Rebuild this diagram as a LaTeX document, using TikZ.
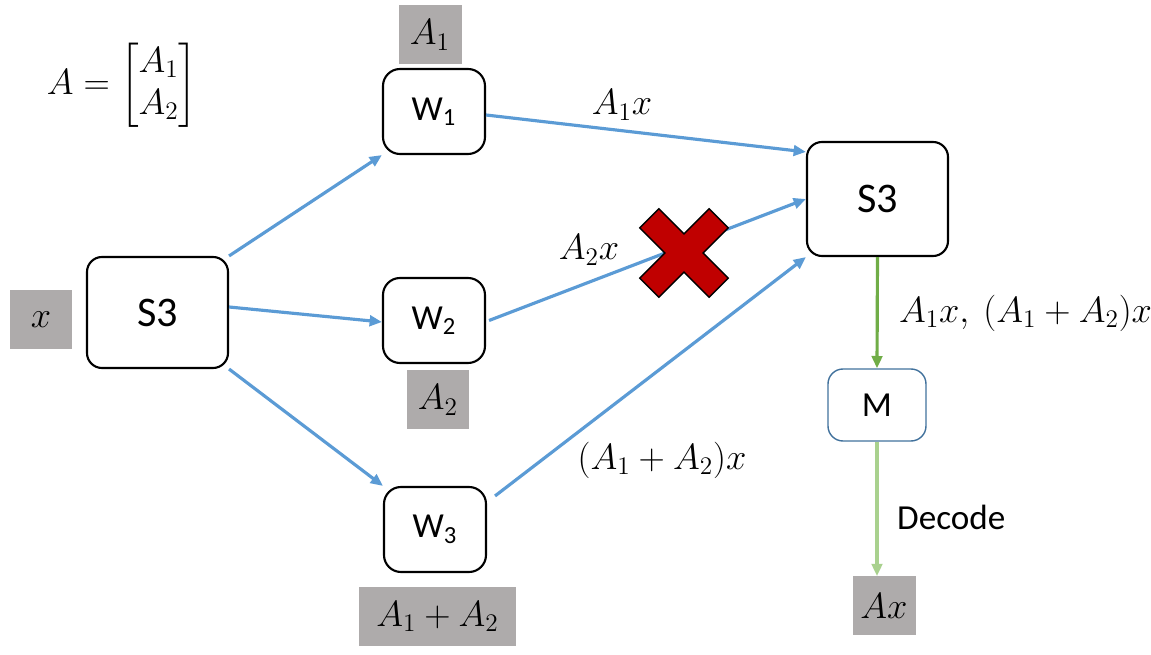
\documentclass[tikz,border=0pt]{standalone}
\usepackage{amsmath,amssymb}
\usepackage{fontspec}
\setmainfont{Carlito}
\usepackage{xcolor}
\usepackage{tikz}
\usetikzlibrary{arrows.meta,calc}

\definecolor{linkblue}{HTML}{5B9BD5}
\definecolor{tagGray}{HTML}{AEABAB}
\definecolor{crossRed}{HTML}{C00000}
\definecolor{sendGreen}{HTML}{70AD47}
\definecolor{decGreen}{HTML}{A9D18E}
\definecolor{mBlue}{HTML}{41719C}

\begin{document}
\begin{tikzpicture}[
    server/.style={draw=black, line width=1.2pt, rounded corners=0.3cm, fill=white, minimum width=2.82cm, minimum height=2.22cm, font=\fontsize{24}{28}\selectfont},
    worker/.style={draw=black, line width=1.2pt, rounded corners=0.34cm, minimum width=2.04cm, minimum height=1.7cm, font=\fontsize{20}{24}\selectfont},
    tag/.style={fill=tagGray, minimum height=1.18cm, inner sep=0pt, font=\fontsize{20}{24}\selectfont},
    link/.style={linkblue, line width=1.8pt, -{Triangle[length=7pt,width=6pt]}},
    lbl/.style={font=\fontsize{20}{24}\selectfont}
]
    \useasboundingbox (0,0) rectangle (23.02,13.1);

    % input and matrix
    \node[tag, minimum width=1.24cm] (xin) at (0.82,6.71) {$x$};
    \node[lbl] (amat) at (2.44,11.4) {$A=\begin{bmatrix}A_1\\A_2\end{bmatrix}$};

    % master and workers
    \node[server] (s3l) at (3.15,6.85) {S3};
    \node[tag, minimum width=1.26cm] (a1) at (8.6,12.4) {$A_1$};
    \node[worker] (w1) at (8.68,10.87) {W\textsubscript{1}};
    \node[worker] (w2) at (8.68,6.69) {W\textsubscript{2}};
    \node[tag, minimum width=1.24cm] (a2) at (8.76,5.1) {$A_2$};
    \node[worker] (w3) at (8.7,2.51) {W\textsubscript{3}};
    \node[tag, minimum width=3.14cm] (a12) at (8.75,0.77) {$A_1+A_2$};

    % receiver side
    \node[server, minimum height=2.28cm] (s3r) at (17.55,9.12) {S3};
    \node[draw=mBlue, line width=0.8pt, rounded corners=0.3cm, minimum width=1.96cm, minimum height=1.44cm, font=\fontsize{20}{24}\selectfont] (m) at (17.54,5.0) {M};
    \node[tag, minimum width=1.26cm] (ax) at (17.68,0.98) {$Ax$};

    % S3 -> workers
    \draw[link] (s3l.north east) -- (w1.south west);
    \draw[link] ([yshift=0.11cm]s3l.east) -- ([yshift=-0.03cm]w2.west);
    \draw[link] (s3l.south east) -- (w3.north west);

    % workers -> S3
    \draw[link] ([yshift=-0.07cm]w1.east) -- ([yshift=-0.22cm]s3r.north west);
    \draw[link] ([xshift=0.06cm]w2.east) -- (s3r.west);
    \draw[link] ([shift={(0.16,-0.2)}]w3.north east) -- (s3r.south west);
    \node[lbl] (l1) at (12.44,11.0) {$A_1x$};
    \node[lbl] (l2) at (11.78,8.1) {$A_2x$};
    \node[lbl] (l3) at (13.24,3.9) {$(A_1+A_2)x$};

    % straggler
    \draw[fill=crossRed, line width=0.8pt, shift={(13.68,8.04)}, rotate=45]
        (0.27,0.27) -- (0.98,0.27) -- (0.98,-0.27) -- (0.27,-0.27) -- (0.27,-0.98) -- (-0.27,-0.98)
        -- (-0.27,-0.27) -- (-0.98,-0.27) -- (-0.98,0.27) -- (-0.27,0.27) -- (-0.27,0.98) -- (0.27,0.98) -- cycle;

    % decode
    \draw[sendGreen, line width=1.8pt, -{Triangle[length=7pt,width=6pt]}] (s3r.south) -- (m.north);
    \node[lbl, anchor=west] (l4) at (17.86,6.84) {$A_1x,\ (A_1+A_2)x$};
    \draw[decGreen, line width=1.8pt, -{Triangle[length=7pt,width=6pt]}] (m.south) -- (m.south |- ax.north);
    \node[font=\fontsize{20}{24}\selectfont, anchor=west] (dec) at (17.82,2.76) {Decode};
\end{tikzpicture}
\end{document}
